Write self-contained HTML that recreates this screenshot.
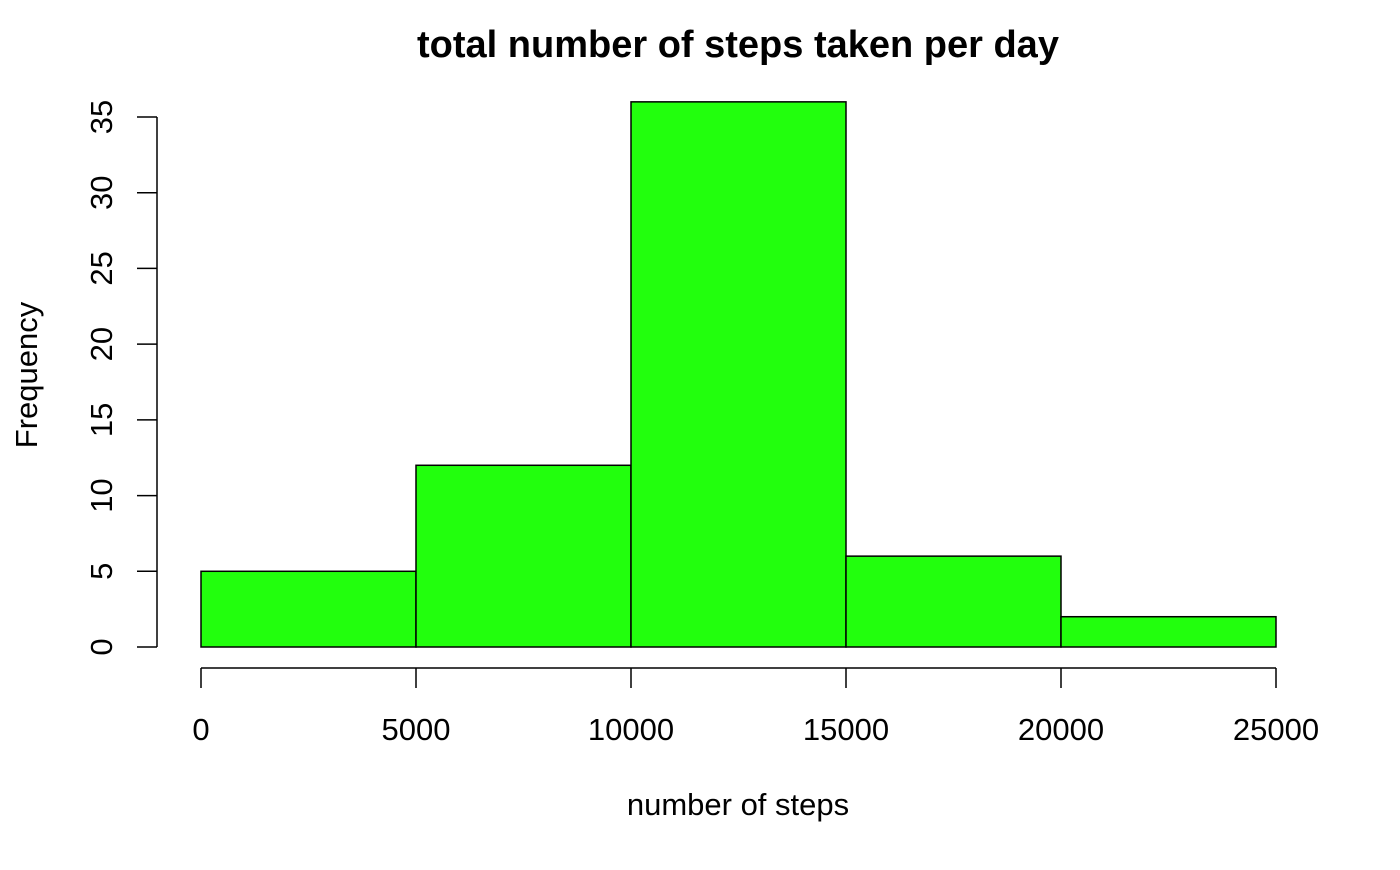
<!DOCTYPE html>
<html><head><meta charset="utf-8"><style>
body{margin:0;background:#fff}
svg text{font-family:"Liberation Sans",Arial,sans-serif;fill:#000}
</style></head><body>
<svg id="chart" width="1400" height="865" xmlns="http://www.w3.org/2000/svg">
<text x="738" y="57" font-size="38" font-weight="bold" text-anchor="middle">total number of steps taken per day</text>
<text x="738" y="815" font-size="31" text-anchor="middle">number of steps</text>
<text transform="translate(37,375) rotate(-90)" font-size="31" text-anchor="middle">Frequency</text>
<g id="bars"></g><g id="axes"></g>
</svg>
<script>
const binEdges=[0,5000,10000,15000,20000,25000];
const counts=[5,12,36,6,2];
const xTicks=[0,5000,10000,15000,20000,25000];
const yTicks=[0,5,10,15,20,25,30,35];
const NS="http://www.w3.org/2000/svg";
const xs=v=>201+v*(1276-201)/25000;
const ys=v=>647-v*(647-117)/35;
function mk(t,a,p){const e=document.createElementNS(NS,t);for(const k in a)e.setAttribute(k,a[k]);p.appendChild(e);return e;}
const bars=document.getElementById('bars'),axes=document.getElementById('axes');
counts.forEach((c,i)=>{
 const r=mk('rect',{x:xs(binEdges[i]),y:ys(c),width:xs(binEdges[i+1])-xs(binEdges[i]),height:ys(0)-ys(c),fill:'#22ff0d',stroke:'#000','stroke-width':1.5},bars);
 
 
});
const xl=mk('line',{x1:xs(xTicks[0]),x2:xs(xTicks[xTicks.length-1]),y1:668,y2:668,stroke:'#000','stroke-width':1.5},axes);


xTicks.forEach(v=>{
 mk('line',{x1:xs(v),x2:xs(v),y1:668,y2:688,stroke:'#000','stroke-width':1.5},axes);
 const t=mk('text',{x:xs(v),y:740,'font-size':31,'text-anchor':'middle'},axes);t.textContent=v;
 
 
});
const yl=mk('line',{x1:157,x2:157,y1:ys(yTicks[0]),y2:ys(yTicks[yTicks.length-1]),stroke:'#000','stroke-width':1.5},axes);


yTicks.forEach(v=>{
 mk('line',{x1:137,x2:157,y1:ys(v),y2:ys(v),stroke:'#000','stroke-width':1.5},axes);
 const t=mk('text',{transform:`translate(112,${ys(v)}) rotate(-90)`,'font-size':31,'text-anchor':'middle'},axes);t.textContent=v;
 
 
});
</script>
</body></html>
